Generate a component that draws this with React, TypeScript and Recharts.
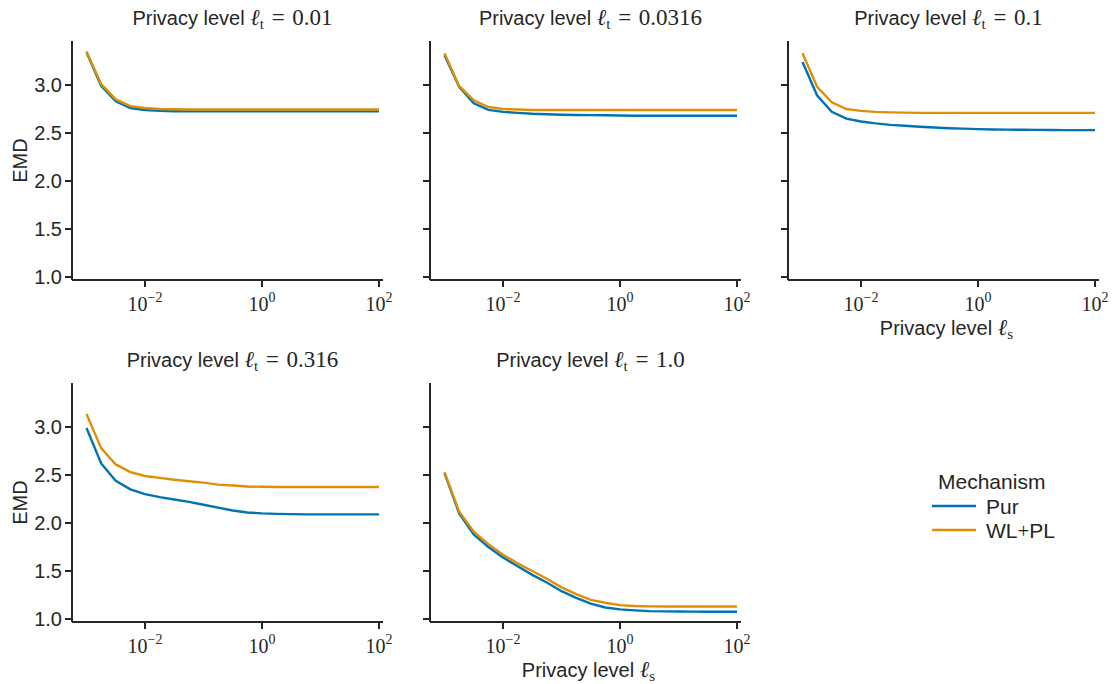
import { LineChart, Line, XAxis, YAxis } from 'recharts';

// privacy level l_s on the x axis (log spaced)
const xs = [
  0.001, 0.00178, 0.00316, 0.00562, 0.01, 0.0178, 0.0316, 0.0562, 0.1, 0.178, 0.316,
  0.562, 1, 1.78, 3.16, 5.62, 10, 17.8, 31.6, 56.2, 100,
];

const xTicks = [0.01, 1, 100];
const yTicks = [1.0, 1.5, 2.0, 2.5, 3.0];

// EMD per l_t, one array per mechanism
const purT001 = [3.34, 2.99, 2.83, 2.76, 2.74, 2.73, 2.727, 2.725, 2.725, 2.725, 2.725, 2.725, 2.725, 2.725, 2.725, 2.725, 2.725, 2.725, 2.725, 2.725, 2.725];
const wlplT001 = [3.35, 3.01, 2.85, 2.78, 2.76, 2.75, 2.747, 2.745, 2.745, 2.745, 2.745, 2.745, 2.745, 2.745, 2.745, 2.745, 2.745, 2.745, 2.745, 2.745, 2.745];

const purT0316 = [3.31, 2.98, 2.81, 2.74, 2.72, 2.71, 2.70, 2.695, 2.69, 2.688, 2.686, 2.684, 2.682, 2.68, 2.68, 2.68, 2.68, 2.68, 2.68, 2.68, 2.68];
const wlplT0316 = [3.33, 2.99, 2.84, 2.77, 2.75, 2.745, 2.74, 2.74, 2.74, 2.74, 2.74, 2.74, 2.74, 2.74, 2.74, 2.74, 2.74, 2.74, 2.74, 2.74, 2.74];

const purT01 = [3.24, 2.89, 2.72, 2.65, 2.62, 2.60, 2.585, 2.575, 2.565, 2.557, 2.55, 2.545, 2.54, 2.537, 2.535, 2.533, 2.532, 2.531, 2.53, 2.53, 2.53];
const wlplT01 = [3.33, 2.98, 2.82, 2.75, 2.73, 2.72, 2.715, 2.712, 2.71, 2.71, 2.71, 2.71, 2.71, 2.71, 2.71, 2.71, 2.71, 2.71, 2.71, 2.71, 2.71];

const purT0316b = [2.99, 2.62, 2.44, 2.35, 2.30, 2.27, 2.245, 2.22, 2.19, 2.16, 2.13, 2.11, 2.10, 2.095, 2.092, 2.09, 2.09, 2.09, 2.09, 2.09, 2.09];
const wlplT0316b = [3.135, 2.78, 2.61, 2.53, 2.49, 2.47, 2.45, 2.435, 2.42, 2.40, 2.39, 2.38, 2.377, 2.375, 2.375, 2.375, 2.375, 2.375, 2.375, 2.375, 2.375];

const purT1 = [2.52, 2.10, 1.88, 1.75, 1.64, 1.55, 1.46, 1.38, 1.29, 1.22, 1.16, 1.12, 1.10, 1.09, 1.082, 1.08, 1.078, 1.077, 1.076, 1.075, 1.075];
const wlplT1 = [2.53, 2.12, 1.91, 1.78, 1.67, 1.58, 1.50, 1.42, 1.33, 1.26, 1.20, 1.17, 1.145, 1.135, 1.132, 1.13, 1.13, 1.13, 1.13, 1.13, 1.13];

const panels = [
  { lt: '0.01', pur: purT001, wlpl: wlplT001, col: 0, row: 0, yLabels: true, xLabel: false },
  { lt: '0.0316', pur: purT0316, wlpl: wlplT0316, col: 1, row: 0, yLabels: false, xLabel: false },
  { lt: '0.1', pur: purT01, wlpl: wlplT01, col: 2, row: 0, yLabels: false, xLabel: true },
  { lt: '0.316', pur: purT0316b, wlpl: wlplT0316b, col: 0, row: 1, yLabels: true, xLabel: false },
  { lt: '1.0', pur: purT1, wlpl: wlplT1, col: 1, row: 1, yLabels: false, xLabel: true },
];

const BLUE = '#0173b2';
const ORANGE = '#de8f05';
const INK = '#262626';
const SANS = '"Liberation Sans", Arial, sans-serif';
const SERIF = '"Liberation Serif", "DejaVu Serif", serif';

const COL_W = 358;
const ROW_H = 342;
const PLOT_L = 72;
const PLOT_R = 383;
const PLOT_T = 41;
const PLOT_B = 280;

// log tick: 10 with a raised exponent
function LogTick({ x, y, payload }: any) {
  const e = Math.round(Math.log10(payload.value));
  return (
    <text x={x} y={y + 22} textAnchor="middle" fontFamily={SERIF} fontSize={20} fill={INK}>
      <tspan>10</tspan>
      <tspan dy={-9} fontSize={14}>{e < 0 ? '\u2212' + -e : String(e)}</tspan>
    </text>
  );
}

function Panel({ pur, wlpl, yLabels }: { pur: number[]; wlpl: number[]; yLabels: boolean }) {
  const data = xs.map((x, i) => ({ x, pur: pur[i], wlpl: wlpl[i] }));
  return (
    <LineChart
      width={400}
      height={ROW_H}
      data={data}
      margin={{ top: PLOT_T, right: 400 - PLOT_R, bottom: 0, left: 12 }}
    >
      <XAxis
        dataKey="x"
        type="number"
        scale="log"
        domain={[0.000565, 117]}
        allowDataOverflow
        ticks={xTicks}
        tick={<LogTick />}
        tickSize={7}
        tickMargin={2}
        height={ROW_H - PLOT_B}
        axisLine={{ stroke: INK, strokeWidth: 2 }}
        tickLine={{ stroke: INK, strokeWidth: 2 }}
      />
      <YAxis
        type="number"
        domain={[0.969, 3.458]}
        allowDataOverflow
        ticks={yTicks}
        width={60}
        tickSize={7}
        tickMargin={3}
        tickFormatter={(v: number) => (yLabels ? v.toFixed(1) : '')}
        tick={{ fill: INK, fontSize: 20, fontFamily: SANS }}
        axisLine={{ stroke: INK, strokeWidth: 2 }}
        tickLine={{ stroke: INK, strokeWidth: 2 }}
      />
      <Line dataKey="pur" stroke={BLUE} strokeWidth={2.4} dot={false} isAnimationActive={false} />
      <Line dataKey="wlpl" stroke={ORANGE} strokeWidth={2.4} dot={false} isAnimationActive={false} />
    </LineChart>
  );
}

// "Privacy level ℓ_x" with the symbol set in serif, as math
function LevelLabel({ sub, rest }: { sub: string; rest?: string }) {
  return (
    <>
      Privacy level{' '}
      <tspan fontFamily={SERIF} fontStyle="italic" fontSize={23}>{'\u2113'}</tspan>
      <tspan fontFamily={SERIF} fontSize={15} dy={4}>{sub}</tspan>
      {rest && (
        <tspan fontFamily={SERIF} fontSize={23} dy={-4}>{'\u2004=\u2004' + rest}</tspan>
      )}
    </>
  );
}

export default function App() {
  return (
    <div
      style={{
        position: 'absolute',
        left: 0,
        top: 0,
        width: 1113,
        height: 684,
        overflow: 'hidden',
        background: '#fff',
      }}
    >
      {panels.map((p) => (
        <div
          key={p.lt}
          style={{ position: 'absolute', left: p.col * COL_W, top: p.row * ROW_H }}
        >
          <Panel pur={p.pur} wlpl={p.wlpl} yLabels={p.yLabels} />
        </div>
      ))}
      <svg
        width={1113}
        height={684}
        style={{ position: 'absolute', left: 0, top: 0, pointerEvents: 'none' }}
      >
        {panels.map((p) => {
          const ox = p.col * COL_W;
          const oy = p.row * ROW_H;
          const cx = ox + (PLOT_L + PLOT_R) / 2 + 5;
          return (
            <g key={'t' + p.lt}>
              <text x={cx} y={oy + 25} textAnchor="middle" fontFamily={SANS} fontSize={20} fill={INK}>
                <LevelLabel sub="t" rest={p.lt} />
              </text>
              {p.yLabels && (
                <text
                  transform={`translate(27, ${oy + (PLOT_T + PLOT_B) / 2}) rotate(-90)`}
                  textAnchor="middle"
                  fontFamily={SANS}
                  fontSize={20}
                  fill={INK}
                >
                  EMD
                </text>
              )}
              {p.xLabel && (
                <text x={cx - 2} y={oy + PLOT_B + 55} textAnchor="middle" fontFamily={SANS} fontSize={20} fill={INK}>
                  <LevelLabel sub="s" />
                </text>
              )}
            </g>
          );
        })}
        {/* mechanism legend */}
        <text x={938} y={489} fontFamily={SANS} fontSize={21} fill={INK}>Mechanism</text>
        <line x1={932} x2={976} y1={506} y2={506} stroke={BLUE} strokeWidth={2.5} />
        <text x={986} y={514} fontFamily={SANS} fontSize={21} fill={INK}>Pur</text>
        <line x1={932} x2={976} y1={530} y2={530} stroke={ORANGE} strokeWidth={2.5} />
        <text x={986} y={538} fontFamily={SANS} fontSize={21} fill={INK}>
          WL<tspan fontFamily={SERIF}>+</tspan>PL
        </text>
      </svg>
    </div>
  );
}
